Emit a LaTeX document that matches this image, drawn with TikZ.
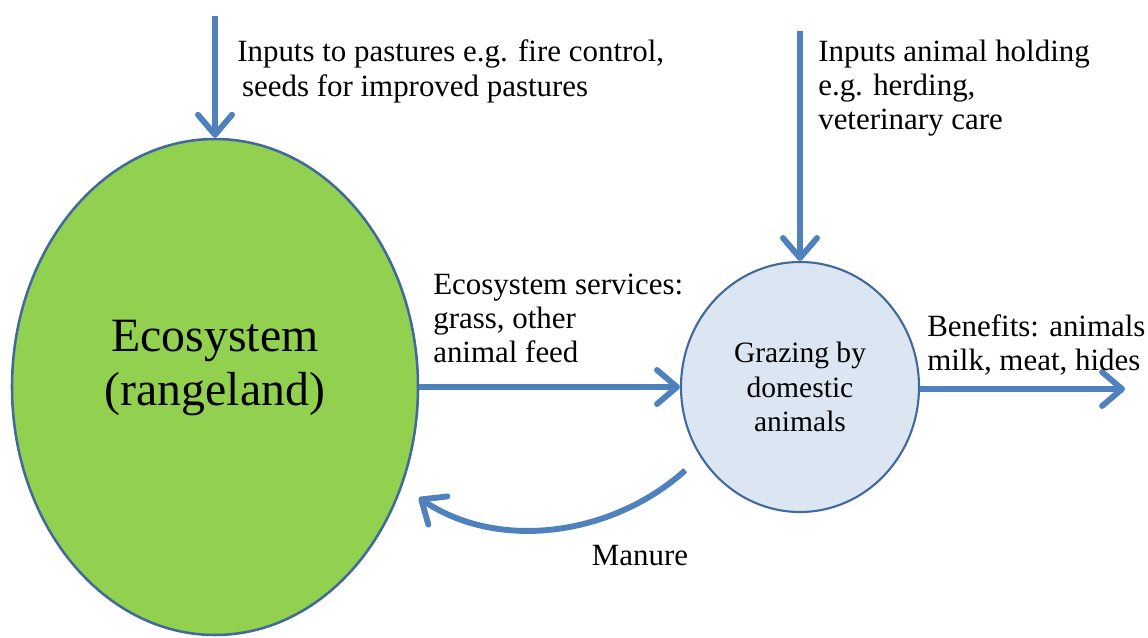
\documentclass[tikz,border=0pt]{standalone}
\usepackage{fontspec}
\setmainfont{Liberation Serif}
\usetikzlibrary{arrows.meta,shapes.geometric}
\definecolor{arrowblue}{HTML}{4F81BD}
\definecolor{rimblue}{HTML}{41699C}
\definecolor{rangegreen}{HTML}{92D050}
\definecolor{grazefill}{HTML}{DCE6F2}

\begin{document}
\begin{tikzpicture}[
    flow/.style={draw=arrowblue, line width=4.2pt,
                 -{Straight Barb[length=0.5cm, width=0.85cm, line width=4.2pt, round]}},
    txt/.style={anchor=west, align=left, inner sep=0pt, font=\fontsize{22}{24.2}\selectfont},
  ]
  \useasboundingbox (0, 0) rectangle (28.7, 15.925);
  %%ecosystem
  \node[ellipse, draw=rimblue, line width=1.8pt, fill=rangegreen, minimum width=10.15cm, minimum height=12.4cm,
        align=center, text depth=1.2cm, font=\fontsize{34}{38}\selectfont] (eco) at (5.375, 6.25) {Ecosystem\\(rangeland)};
  %%grazing
  \node[ellipse, draw=rimblue, line width=1.5pt, fill=grazefill, minimum width=5.95cm, minimum height=6.25cm,
        align=center, font=\fontsize{21}{24.5}\selectfont] (graze) at (20, 6.25) {Grazing by\\domestic\\animals};

  %%inputs
  \coordinate (pastureIn) at ([yshift=3.05cm]eco.north);
  \draw[flow] (pastureIn) -- (eco.north);
  \node[txt] (pastureText) at (5.925, 14.14) {Inputs to pastures e.g. fire control,\\\hspace{0.12cm}seeds for improved pastures};

  \coordinate (holdingIn) at ([yshift=5.75cm]graze.north);
  \draw[flow] (holdingIn) -- (graze.north);
  \node[txt] (holdingText) at (20.45, 13.725) {Inputs animal holding\\e.g. herding,\\veterinary care};

  %%services
  \draw[flow] (eco.east) -- (graze.west);
  \node[txt] (servicesText) at (10.825, 7.975) {Ecosystem services:\\grass, other\\animal feed};

  %%benefits
  \coordinate (benefitsOut) at (28.125, 6.2);
  \draw[flow] (graze.east |- benefitsOut) -- (benefitsOut);
  \node[txt] (benefitsText) at (23.175, 7.3) {Benefits: animals\\milk, meat, hides};

  %%manure
  \draw[flow, shorten <=0.5cm, shorten >=0.5cm] (graze.215) to[out=222, in=-34] (eco.-28);
  \node[txt, anchor=center] (manureText) at (16.0, 2.025) {Manure};
\end{tikzpicture}
\end{document}
